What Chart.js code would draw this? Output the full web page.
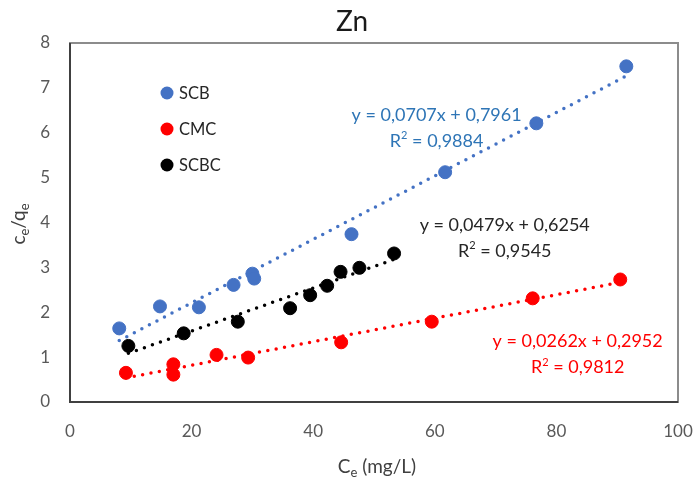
<!DOCTYPE html>
<html>
<head>
<meta charset="utf-8">
<script src="https://cdn.jsdelivr.net/npm/chart.js@4/dist/chart.umd.min.js"></script>
<style>
  html, body { margin: 0; padding: 0; background: #fff; }
  #wrap { width: 696px; height: 481px; }
</style>
</head>
<body>
<div id="wrap"><canvas id="znChart"></canvas></div>
<script>
// data
var scbX  = [8.1, 14.8, 21.2, 26.9, 30.0, 30.3, 46.3, 61.7, 76.7, 91.5];
var scbY  = [1.64, 2.13, 2.11, 2.61, 2.86, 2.75, 3.74, 5.12, 6.21, 7.48];
var cmcX  = [9.2, 17.0, 17.0, 24.1, 29.3, 44.6, 59.5, 76.1, 90.5];
var cmcY  = [0.65, 0.84, 0.61, 1.05, 0.99, 1.33, 1.79, 2.31, 2.73];
var scbcX = [9.6, 18.7, 27.6, 36.2, 39.5, 42.3, 44.5, 47.6, 53.3];
var scbcY = [1.25, 1.53, 1.79, 2.09, 2.38, 2.59, 2.90, 2.99, 3.31];

var seriesNames = ["SCB", "CMC", "SCBC"];
var slopes      = [0.0707, 0.0262, 0.0479];
var intercepts  = [0.7961, 0.2952, 0.6254];
var rSquared    = ["0,9884", "0,9812", "0,9545"];
var eqTexts     = ["y = 0,0707x + 0,7961", "y = 0,0262x + 0,2952", "y = 0,0479x + 0,6254"];

var xTicks = [0, 20, 40, 60, 80, 100];
var yTicks = [0, 1, 2, 3, 4, 5, 6, 7, 8];

var pointColors = ["#4472C4", "#FF0000", "#000000"];
var textColors  = ["#2E75B6", "#FF0000", "#262626"];
var FONT = "Lato, 'Open Sans', sans-serif";

function pts(xs, ys) {
    return xs.map(function (x, i) { return { x: x, y: ys[i] }; });
}
function trend(xs, k) {
    var lo = Math.min.apply(null, xs), hi = Math.max.apply(null, xs);
    return [{ x: lo, y: slopes[k] * lo + intercepts[k] }, { x: hi, y: slopes[k] * hi + intercepts[k] }];
}

var allX = [scbX, cmcX, scbcX];
var allY = [scbY, cmcY, scbcY];

var datasets = [];
for (var k = 0; k < 3; k++) {
    datasets.push({
        label: seriesNames[k] + " trend",
        type: "line",
        data: trend(allX[k], k),
        borderColor: pointColors[k],
        borderWidth: 3.5,
        borderDash: [0, 8.5],
        borderCapStyle: "round",
        pointRadius: 0,
        fill: false,
        order: 2
    });
}
for (var k = 0; k < 3; k++) {
    datasets.push({
        label: seriesNames[k],
        data: pts(allX[k], allY[k]),
        backgroundColor: pointColors[k],
        borderColor: pointColors[k],
        pointRadius: 6.5,
        pointHoverRadius: 6.5,
        order: 1
    });
}

// equation label positions in data units
var eqPos = [[60.3, 6.4], [83.5, 1.35], [71.5, 3.95]];

var decorPlugin = {
    id: "decor",
    beforeDatasetsDraw: function (chart) {
        var c = chart.ctx, a = chart.chartArea;
        c.save();
        c.strokeStyle = "#8c8c8c";
        c.lineWidth = 2;
        c.strokeRect(a.left, a.top, a.right - a.left, a.bottom - a.top);
        c.strokeStyle = "#404040";
        c.beginPath();
        c.moveTo(a.left, a.top);
        c.lineTo(a.left, a.bottom);
        c.lineTo(a.right, a.bottom);
        c.stroke();
        c.restore();
    },
    afterDraw: function (chart) {
        var c = chart.ctx, a = chart.chartArea;
        var xs = chart.scales.x, ys = chart.scales.y;
        c.save();
        // title
        c.fillStyle = "#1a1a1a";
        c.font = "28px " + FONT;
        c.textAlign = "center";
        c.textBaseline = "middle";
        c.fillText("Zn", 352, 22);

        // legend
        c.font = "16.5px " + FONT;
        c.textAlign = "left";
        for (var k = 0; k < 3; k++) {
            var ly = 93 + k * 36;
            c.fillStyle = pointColors[k];
            c.beginPath();
            c.arc(167, ly, 6.5, 0, Math.PI * 2);
            c.fill();
            c.fillStyle = "#262626";
            c.fillText(seriesNames[k], 179, ly + 1);
        }

        // equations
        var eqF = "18px " + FONT, supF = "11px " + FONT;
        for (var k = 0; k < 3; k++) {
            var px = xs.getPixelForValue(eqPos[k][0]);
            var py = ys.getPixelForValue(eqPos[k][1]);
            c.fillStyle = textColors[k];
            c.font = eqF;
            c.textAlign = "center";
            c.fillText(eqTexts[k], px, py);
            var rest = " = " + rSquared[k];
            var wR = c.measureText("R").width;
            var wRest = c.measureText(rest).width;
            c.font = supF;
            var w2 = c.measureText("2").width;
            var tot = wR + w2 + wRest;
            var sx = px - tot / 2, ry = py + 26;
            c.textAlign = "left";
            c.font = eqF; c.fillText("R", sx, ry);
            c.font = supF; c.fillText("2", sx + wR, ry - 5);
            c.font = eqF; c.fillText(rest, sx + wR + w2, ry);
        }

        // axis titles with subscripts
        c.fillStyle = "#404040";
        c.textAlign = "left";
        var mainF = "19px " + FONT, subF = "13px " + FONT;
        // x title: Ce (mg/L)
        c.font = mainF;
        var wC = c.measureText("C").width;
        var wTail = c.measureText(" (mg/L)").width;
        c.font = subF;
        var wE = c.measureText("e").width;
        var tx = 377 - (wC + wE + wTail) / 2, ty = 467;
        c.font = mainF; c.fillText("C", tx, ty);
        c.font = subF; c.fillText("e", tx + wC, ty + 6);
        c.font = mainF; c.fillText(" (mg/L)", tx + wC + wE, ty);

        // y title: ce/qe rotated
        c.translate(19, 224);
        c.rotate(-Math.PI / 2);
        var parts = [["c", mainF, 0], ["e", subF, 6], ["/q", mainF, 0], ["e", subF, 6]];
        var tw = 0;
        parts.forEach(function (p) { c.font = p[1]; tw += c.measureText(p[0]).width; });
        var cx = -tw / 2;
        parts.forEach(function (p) {
            c.font = p[1];
            c.fillText(p[0], cx, p[2]);
            cx += c.measureText(p[0]).width;
        });
        c.restore();
    }
};

var ctx = document.getElementById("znChart");
var znChart = new Chart(ctx, {
    type: "scatter",
    data: { datasets: datasets },
    options: {
        responsive: true,
        maintainAspectRatio: false,
        animation: false,
        layout: { padding: { top: 43, right: 18, left: 0, bottom: 0 } },
        plugins: {
            legend: { display: false },
            tooltip: { enabled: false },
            title: { display: false }
        },
        scales: {
            x: {
                type: "linear",
                min: 0, max: 100,
                afterBuildTicks: function (s) { s.ticks = xTicks.map(function (v) { return { value: v }; }); },
                afterFit: function (s) { s.height = 79; },
                // invisible tick marks give the label offset without widening the side padding
                grid: { display: true, drawOnChartArea: false, drawTicks: true, tickLength: 19, color: "rgba(0,0,0,0)" },
                border: { display: false },
                ticks: { padding: 0, color: "#595959", font: { family: FONT, size: 17 }, maxRotation: 0 }
            },
            y: {
                type: "linear",
                min: 0, max: 8,
                afterBuildTicks: function (s) { s.ticks = yTicks.map(function (v) { return { value: v }; }); },
                afterFit: function (s) { s.width = 70; },
                grid: { display: false, drawTicks: false },
                border: { display: false },
                ticks: { padding: 20, color: "#595959", font: { family: FONT, size: 17 } }
            }
        }
    },
    plugins: [decorPlugin]
});
</script>
</body>
</html>
